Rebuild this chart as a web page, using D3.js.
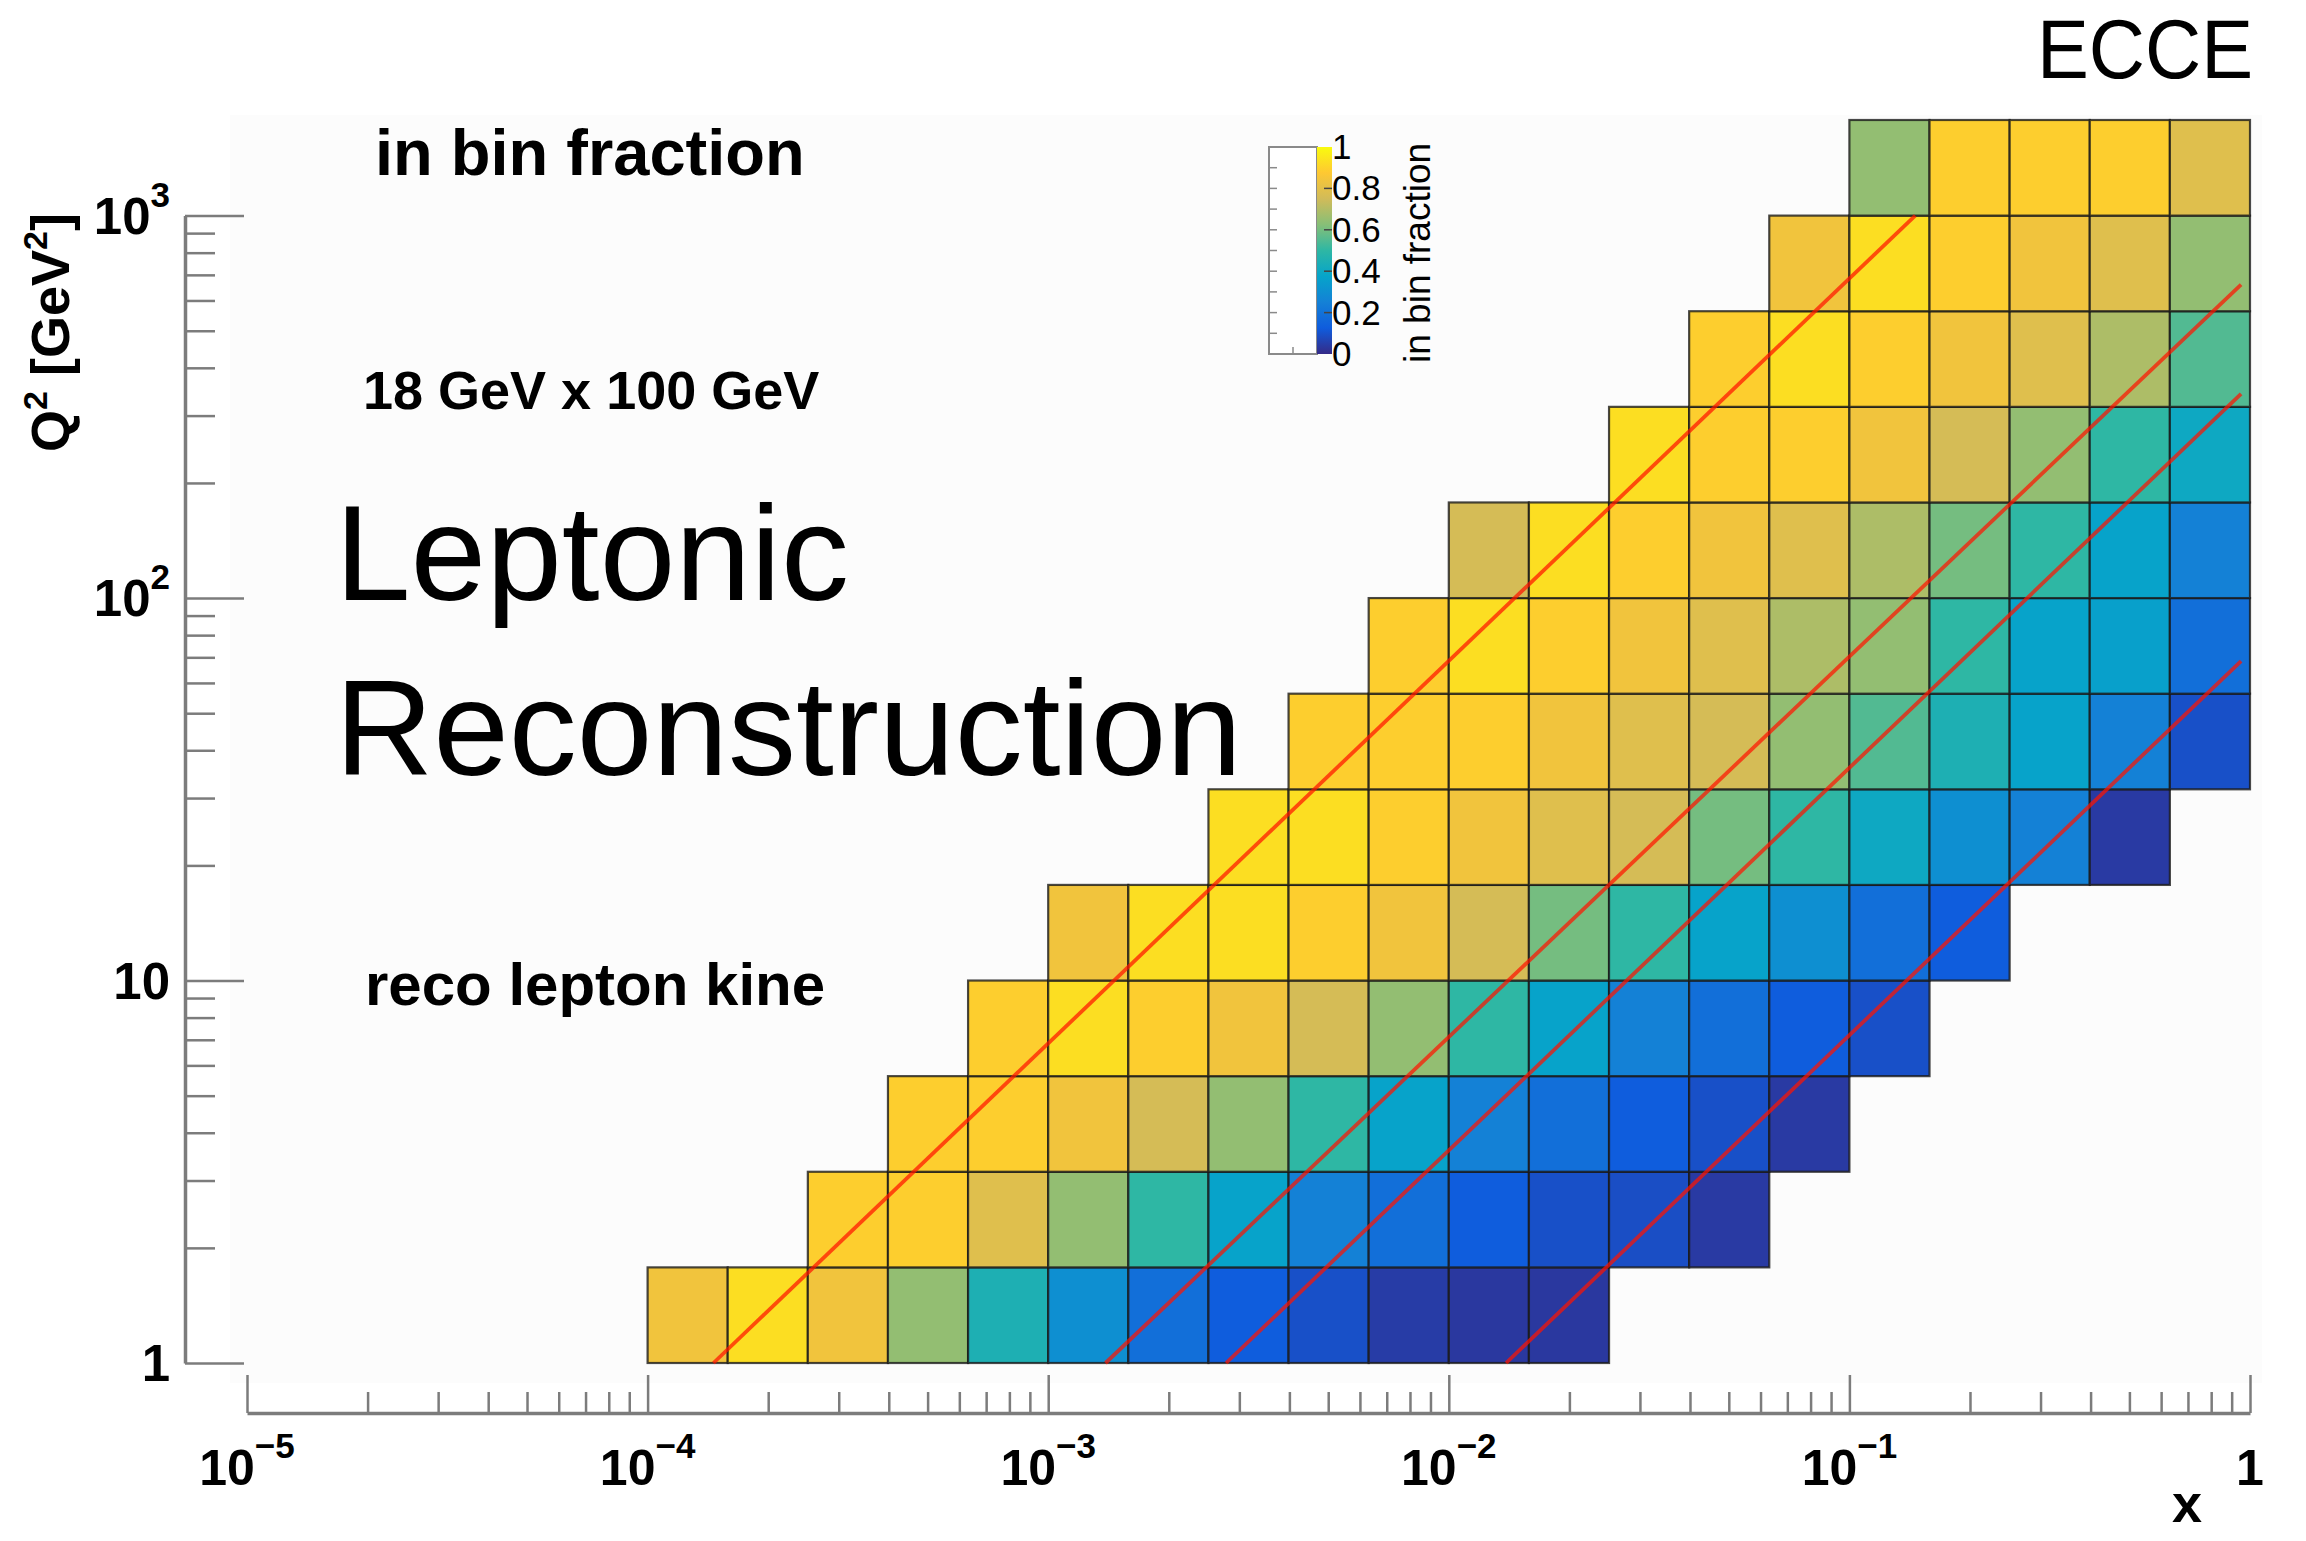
<!DOCTYPE html>
<html>
<head>
<meta charset="utf-8">
<script src="https://cdn.jsdelivr.net/npm/d3@7"></script>
<style>
    html, body { margin: 0; padding: 0; background: #fff; }
    svg { display: block; }
    text { font-family: "Liberation Sans", Arial, Helvetica, sans-serif; fill: #000; }
</style>
</head>
<body>
<svg id="chart" width="2306" height="1541"></svg>
<script>
'use strict';

/*
    Data
*/

// bin edges, as powers of ten
const X_EDGE_EXP  = [-4, -3.8, -3.6, -3.4, -3.2, -3, -2.8, -2.6, -2.4, -2.2, -2,
                     -1.8, -1.6, -1.4, -1.2, -1, -0.8, -0.6, -0.4, -0.2, 0];
const Q2_EDGE_EXP = [0, 0.25, 0.5, 0.75, 1, 1.25, 1.5, 1.75, 2, 2.25, 2.5, 2.75, 3, 3.25];

// first filled x bin of every Q2 row (bottom row first)
const ROW_START = [0, 2, 3, 4, 5, 7, 8, 9, 10, 12, 13, 14, 15];

// in bin fraction, row by row
const ROW_VALUES = [
    [0.84, 0.93, 0.84, 0.645, 0.45, 0.30, 0.19, 0.13, 0.095, 0.045, 0.035, 0.035],
    [0.89, 0.89, 0.79, 0.645, 0.50, 0.37, 0.25, 0.19, 0.13, 0.095, 0.09, 0.04],
    [0.89, 0.89, 0.84, 0.76, 0.645, 0.50, 0.37, 0.25, 0.19, 0.13, 0.095, 0.04],
    [0.89, 0.93, 0.89, 0.84, 0.76, 0.645, 0.50, 0.37, 0.25, 0.19, 0.13, 0.095],
    [0.84, 0.93, 0.93, 0.89, 0.84, 0.76, 0.60, 0.50, 0.37, 0.30, 0.19, 0.13],
    [0.93, 0.93, 0.89, 0.84, 0.79, 0.76, 0.60, 0.50, 0.40, 0.30, 0.25, 0.04],
    [0.89, 0.89, 0.89, 0.84, 0.79, 0.76, 0.645, 0.55, 0.45, 0.37, 0.25, 0.095],
    [0.89, 0.93, 0.89, 0.84, 0.79, 0.69, 0.645, 0.50, 0.37, 0.36, 0.19],
    [0.76, 0.93, 0.89, 0.84, 0.79, 0.69, 0.60, 0.50, 0.37, 0.25],
    [0.93, 0.89, 0.89, 0.84, 0.76, 0.645, 0.50, 0.40],
    [0.89, 0.93, 0.89, 0.84, 0.79, 0.69, 0.55],
    [0.84, 0.93, 0.89, 0.84, 0.79, 0.645],
    [0.645, 0.89, 0.89, 0.89, 0.79]
];

// constant-y lines, [x, Q2] end points
const Y_LINES = [
    [[1.46e-4, 1], [0.146, 1000]],
    [[1.39e-3, 1], [0.95, 660]],
    [[2.78e-3, 1], [0.95, 342]],
    [[1.39e-2, 1], [0.95, 68.4]]
];

const X_TICK_EXP  = [-5, -4, -3, -2, -1, 0];
const Q2_TICK_EXP = [0, 1, 2, 3];
const CB_TICKS    = [0, 0.2, 0.4, 0.6, 0.8, 1];

// ROOT kBird palette
const PALETTE_STOPS  = [0, 0.125, 0.25, 0.375, 0.5, 0.625, 0.75, 0.875, 1];
const PALETTE_COLORS = ['#352a87', '#0f5cdd', '#1481d6', '#06a4ca', '#2eb7a4',
                        '#87bf77', '#d1bb59', '#fec832', '#f9fb0e'];

/*
    Scales
*/

const SVG = d3.select('#chart');

const X_SCALE  = d3.scaleLog().domain([1e-5, 1]).range([247, 2250]);
const Y_SCALE  = d3.scaleLog().domain([1, Math.pow(10, 3.25)]).range([1363, 120]);
const Y_AXIS   = d3.scaleLog().domain([1, 1000]).range([Y_SCALE(1), Y_SCALE(1000)]);
const COLOR    = d3.scaleLinear().domain(PALETTE_STOPS).range(PALETTE_COLORS)
                   .interpolate(d3.interpolateRgb).clamp(true);

const AXIS_GREY = '#7c7c7c';

/*
    Frame
*/

SVG.append('rect')
    .attr('x', 230).attr('y', 115)
    .attr('width', 2032).attr('height', 1268)
    .attr('fill', '#fcfcfc');

/*
    Heat map
*/

const CELLS = ROW_VALUES.flatMap((values, r) =>
    values.map((v, k) => ({ xi: ROW_START[r] + k, yi: r, v: v })));

SVG.append('g')
    .selectAll('rect')
    .data(CELLS)
    .join('rect')
        .attr('x', d => X_SCALE(Math.pow(10, X_EDGE_EXP[d.xi])))
        .attr('y', d => Y_SCALE(Math.pow(10, Q2_EDGE_EXP[d.yi + 1])))
        .attr('width', d => X_SCALE(Math.pow(10, X_EDGE_EXP[d.xi + 1])) - X_SCALE(Math.pow(10, X_EDGE_EXP[d.xi])))
        .attr('height', d => Y_SCALE(Math.pow(10, Q2_EDGE_EXP[d.yi])) - Y_SCALE(Math.pow(10, Q2_EDGE_EXP[d.yi + 1])))
        .attr('fill', d => COLOR(d.v))
        .attr('stroke', '#1a1a1a')
        .attr('stroke-opacity', 0.8)
        .attr('stroke-width', 2.2);

const LINE = d3.line()
    .x(d => X_SCALE(d[0]))
    .y(d => Y_SCALE(d[1]));

SVG.append('g')
    .selectAll('path')
    .data(Y_LINES)
    .join('path')
        .attr('d', LINE)
        .attr('fill', 'none')
        .attr('stroke', '#ff1400')
        .attr('stroke-opacity', 0.72)
        .attr('stroke-width', 3.8);

/*
    Axes
*/

function logTicks(exps) {
    const major = exps.map(e => Math.pow(10, e));
    const minor = [];
    exps.slice(0, -1).forEach(e => {
        for (let m = 2; m < 10; m++) minor.push(m * Math.pow(10, e));
    });
    return { major: major, minor: minor };
}

function styleAxis(g, majorLen, minorLen, majors, attr) {
    g.select('.domain').attr('stroke', AXIS_GREY).attr('stroke-width', 3.5);
    g.selectAll('.tick line')
        .attr('stroke', AXIS_GREY)
        .attr('stroke-width', 2.5)
        .attr(attr, d => (majors.includes(d) ? majorLen : minorLen));
}

// x axis, drawn below the frame
const X_T = logTicks(X_TICK_EXP);
const X_AXIS_G = SVG.append('g')
    .attr('transform', 'translate(0,1413)')
    .call(d3.axisTop(X_SCALE)
        .tickValues(X_T.major.concat(X_T.minor))
        .tickFormat('')
        .tickSizeOuter(0));
styleAxis(X_AXIS_G, -38, -21, X_T.major, 'y2');

// y axis, drawn left of the frame
const Y_T = logTicks(Q2_TICK_EXP);
const Y_AXIS_G = SVG.append('g')
    .attr('transform', 'translate(185,0)')
    .call(d3.axisRight(Y_AXIS)
        .tickValues(Y_T.major.concat(Y_T.minor))
        .tickFormat('')
        .tickSizeOuter(0));
styleAxis(Y_AXIS_G, 59, 30, Y_T.major, 'x2');

// tick labels as 10^n
function powerLabel(sel, e) {
    if (e === 0) { sel.append('tspan').text('1'); return; }
    if (e === 1) { sel.append('tspan').text('10'); return; }
    sel.append('tspan').text('10');
    sel.append('tspan')
        .attr('dy', -27)
        .attr('font-size', 35)
        .text(e < 0 ? '\u2212' + Math.abs(e) : String(e));
}

X_TICK_EXP.forEach(e => {
    const t = SVG.append('text')
        .attr('x', X_SCALE(Math.pow(10, e)))
        .attr('y', 1485)
        .attr('text-anchor', 'middle')
        .attr('font-size', 50)
        .attr('font-weight', 'bold');
    powerLabel(t, e);
});

Q2_TICK_EXP.forEach(e => {
    const t = SVG.append('text')
        .attr('x', 170)
        .attr('y', Y_AXIS(Math.pow(10, e)) + 18)
        .attr('text-anchor', 'end')
        .attr('font-size', 51)
        .attr('font-weight', 'bold');
    powerLabel(t, e);
});

// axis titles
SVG.append('text')
    .attr('x', 2202).attr('y', 1522)
    .attr('text-anchor', 'end')
    .attr('font-size', 54).attr('font-weight', 'bold')
    .text('x');

const Y_TITLE = SVG.append('text')
    .attr('transform', 'translate(69,213) rotate(-90)')
    .attr('text-anchor', 'end')
    .attr('font-size', 54).attr('font-weight', 'bold');
Y_TITLE.append('tspan').text('Q');
Y_TITLE.append('tspan').attr('dy', -22).attr('font-size', 34).text('2');
Y_TITLE.append('tspan').attr('dy', 22).text(' [GeV');
Y_TITLE.append('tspan').attr('dy', -22).attr('font-size', 34).text('2');
Y_TITLE.append('tspan').attr('dy', 22).text(']');

/*
    Colour bar
*/

const CB = d3.scaleLinear().domain([0, 1]).range([354, 147]);

const GRAD = SVG.append('defs').append('linearGradient')
    .attr('id', 'bird')
    .attr('x1', 0).attr('y1', 1).attr('x2', 0).attr('y2', 0);
GRAD.selectAll('stop')
    .data(PALETTE_STOPS)
    .join('stop')
        .attr('offset', d => d)
        .attr('stop-color', d => COLOR(d));

SVG.append('rect')
    .attr('x', 1269).attr('y', CB(1))
    .attr('width', 48).attr('height', CB(0) - CB(1))
    .attr('fill', '#fff')
    .attr('stroke', '#8a8a8a').attr('stroke-width', 2);

SVG.append('g')
    .selectAll('line')
    .data(d3.range(1, 10))
    .join('line')
        .attr('x1', 1269).attr('x2', 1277)
        .attr('y1', d => CB(d / 10)).attr('y2', d => CB(d / 10))
        .attr('stroke', '#8a8a8a').attr('stroke-width', 1.5);

SVG.append('line')
    .attr('x1', 1293).attr('x2', 1293)
    .attr('y1', CB(0)).attr('y2', CB(0) - 7)
    .attr('stroke', '#8a8a8a').attr('stroke-width', 1.5);

SVG.append('rect')
    .attr('x', 1317).attr('y', CB(1))
    .attr('width', 15).attr('height', CB(0) - CB(1))
    .attr('fill', 'url(#bird)');

SVG.append('g')
    .selectAll('line')
    .data(CB_TICKS.slice(1, -1))
    .join('line')
        .attr('x1', 1324).attr('x2', 1332)
        .attr('y1', d => CB(d)).attr('y2', d => CB(d))
        .attr('stroke', '#444').attr('stroke-width', 1.5);

SVG.append('g')
    .selectAll('text')
    .data(CB_TICKS)
    .join('text')
        .attr('x', 1332)
        .attr('y', d => CB(d) + 12)
        .attr('font-size', 35)
        .attr('fill', '#222')
        .text(d3.format('~g'));

SVG.append('text')
    .attr('transform', 'translate(1430,363) rotate(-90)')
    .attr('font-size', 37)
    .attr('fill', '#222')
    .text('in bin fraction');

/*
    Labels
*/

SVG.append('text')
    .attr('x', 375).attr('y', 175)
    .attr('font-size', 65).attr('font-weight', 'bold')
    .text('in bin fraction');

SVG.append('text')
    .attr('x', 363).attr('y', 409)
    .attr('font-size', 54).attr('font-weight', 'bold')
    .text('18 GeV x 100 GeV');

SVG.append('text')
    .attr('x', 365).attr('y', 1005)
    .attr('font-size', 60).attr('font-weight', 'bold')
    .text('reco lepton kine');

const BIG_FONT = '"Open Sans", "Noto Sans", sans-serif';
const LEP = SVG.append('text')
    .attr('x', 335).attr('y', 600)
    .attr('font-family', BIG_FONT).attr('font-size', 100)
    .text('Leptonic');
const REC = SVG.append('text')
    .attr('x', 335).attr('y', 775)
    .attr('font-family', BIG_FONT).attr('font-size', 100)
    .text('Reconstruction');

// fit the big label to its width in the picture
const BIG_SIZE = 100 * 907 / REC.node().getComputedTextLength();
LEP.attr('font-size', BIG_SIZE);
REC.attr('font-size', BIG_SIZE);

SVG.append('text')
    .attr('x', 2253).attr('y', 78)
    .attr('text-anchor', 'end')
    .attr('font-size', 84)
    .attr('textLength', 216)
    .attr('lengthAdjust', 'spacingAndGlyphs')
    .text('ECCE');
</script>
</body>
</html>
